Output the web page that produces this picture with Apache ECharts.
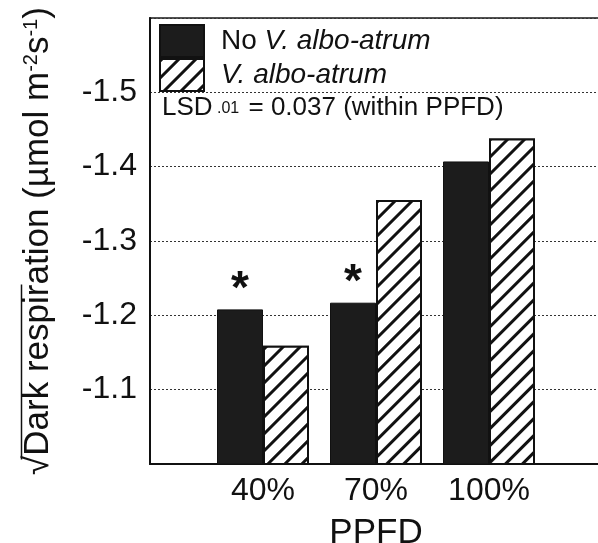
<!DOCTYPE html>
<html>
<head>
<meta charset="utf-8">
<script src="https://cdn.jsdelivr.net/npm/echarts@6/dist/echarts.min.js"></script>
<style>
html, body { margin: 0; padding: 0; background: #fff; }
#main { width: 598px; height: 543px; }
</style>
</head>
<body>
<div id="main"></div>
<script>
// PPFD levels, padded with empty slots so the groups sit where they do in the figure
var categories = ['', '40%', '70%', '100%', ''];
var noVaValues = [null, -1.208, -1.217, -1.407, null];
var vaValues = [null, -1.159, -1.355, -1.438, null];
var significance = ['', '*', '*', '', ''];
var yTicks = [-1.1, -1.2, -1.3, -1.4, -1.5];

var FONT = '"Liberation Sans", Arial, Helvetica, sans-serif';

var myChart = echarts.init(document.getElementById('main'));

var option = {
    animation: false,
    backgroundColor: '#fff',
    grid: {
        left: 150, top: 18, height: 446, width: 452,
        outerBoundsMode: 'none',
        show: true, borderColor: '#1a1a1a', borderWidth: 1.5
    },
    title: {
        left: 157, top: 90,
        text: '{a|LSD}{b| .01}{a| = 0.037 (within PPFD)}',
        textStyle: {
            rich: {
                a: { fontFamily: FONT, fontSize: 26, fontWeight: 'normal', color: '#111' },
                b: { fontFamily: FONT, fontSize: 16, fontWeight: 'normal', color: '#111', verticalAlign: 'bottom', padding: [0, 2, 4, 0] }
            }
        }
    },
    legend: {
        orient: 'vertical', left: 159, top: 24, padding: 0,
        itemWidth: 44, itemHeight: 32, itemGap: 0,
        icon: 'rect',
        selectedMode: false,
        formatter: function (name) {
            return name.indexOf('No ') === 0 ? '{n|No }{i|' + name.slice(3) + '}' : '{i|' + name + '}';
        },
        textStyle: {
            padding: [0, 0, 0, 12],
            lineHeight: 28,
            rich: {
                n: { fontFamily: FONT, fontSize: 28, lineHeight: 28, color: '#111' },
                i: { fontFamily: FONT, fontSize: 28, lineHeight: 28, color: '#111', fontStyle: 'italic' }
            }
        }
    },
    xAxis: {
        type: 'category',
        data: categories,
        boundaryGap: false,
        name: 'PPFD',
        nameLocation: 'middle',
        nameGap: 52,
        nameTextStyle: { fontFamily: FONT, fontSize: 35, color: '#111' },
        axisLine: { lineStyle: { color: '#111', width: 2 } },
        axisTick: { show: false },
        axisLabel: { fontFamily: FONT, fontSize: 32, color: '#111', margin: 11, interval: 0 },
        splitLine: { show: false }
    },
    yAxis: {
        type: 'value',
        inverse: true,
        min: -1.6, max: -1.0, interval: 0.1,
        name: '{r|√Dark respiration (µmol m}{s|-2}{r|s}{s|-1}{r|)}',
        nameLocation: 'middle',
        nameRotate: 90,
        nameGap: 94,
        nameTextStyle: {
            rich: {
                r: { fontFamily: FONT, fontSize: 35, color: '#111' },
                s: { fontFamily: FONT, fontSize: 20, color: '#111', verticalAlign: 'top' }
            }
        },
        axisLine: { show: true, lineStyle: { color: '#111', width: 2 } },
        axisTick: { show: false },
        axisLabel: {
            fontFamily: FONT, fontSize: 32, color: '#111', margin: 13,
            formatter: function (v) {
                for (var i = 0; i < yTicks.length; i++) {
                    if (Math.abs(yTicks[i] - v) < 1e-6) return yTicks[i].toFixed(1);
                }
                return '';
            }
        },
        splitLine: { show: true, lineStyle: { color: '#333', width: 1, type: [2, 2] } }
    },
    series: [
        {
            name: 'No V. albo-atrum',
            type: 'bar',
            data: noVaValues,
            barWidth: 46,
            barGap: '0%',
            itemStyle: { color: '#1c1c1c', borderColor: '#111', borderWidth: 1 },
            label: {
                show: true, position: 'top', distance: -4,
                fontFamily: FONT, fontSize: 46, fontWeight: 'bold', color: '#111',
                formatter: function (p) { return significance[p.dataIndex]; }
            }
        },
        {
            name: 'V. albo-atrum',
            type: 'bar',
            data: vaValues,
            barWidth: 46,
            itemStyle: {
                color: '#fff', borderColor: '#111', borderWidth: 2,
                decal: {
                    symbol: 'rect', symbolSize: 1,
                    dashArrayX: [1, 0], dashArrayY: [2.2, 8.5],
                    rotation: -Math.PI / 4,
                    color: '#111', backgroundColor: '#fff'
                }
            }
        }
    ],
    graphic: [
        {
            type: 'line', left: 19, top: 282,
            shape: { x1: 0, y1: 0, x2: 0, y2: 175 },
            style: { stroke: '#111', lineWidth: 1.5 }
        }
    ]
};

myChart.setOption(option);
</script>
</body>
</html>
